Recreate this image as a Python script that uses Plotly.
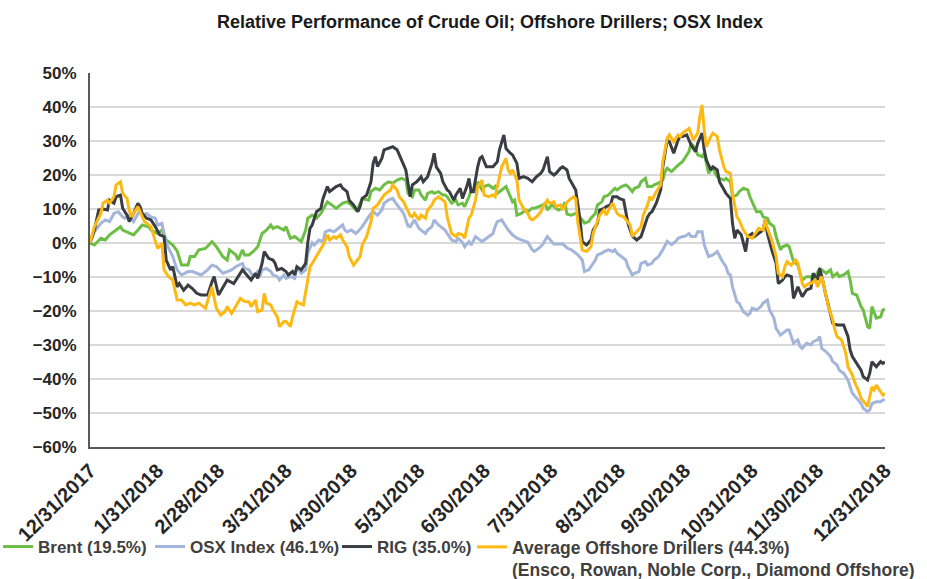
import pandas as pd
import plotly.graph_objects as go

START = "2017-12-31"

tick_labels = ["12/31/2017", "1/31/2018", "2/28/2018", "3/31/2018", "4/30/2018",
               "5/31/2018", "6/30/2018", "7/31/2018", "8/31/2018", "9/30/2018",
               "10/31/2018", "11/30/2018", "12/31/2018"]

# days since 12/31/2017 and relative performance in percent
brent_day = [0, 2, 5, 7, 9, 11, 14, 15, 17, 20, 22, 24, 27, 28, 31, 33, 35, 38, 40, 42, 45, 46, 48, 50, 53, 56, 58, 61, 63, 64, 67, 68, 70,
             71, 73, 75, 77, 79, 81, 83, 84, 86, 89, 90, 92, 94, 95, 97, 99, 100, 102, 104, 106, 107, 109, 111, 113, 116, 118, 120, 122, 123,
             125, 128, 129, 131, 133, 135, 137, 139, 141, 143, 145, 146, 148, 149, 151, 152, 154, 155, 157, 158, 160, 162, 163, 164, 166,
             168, 169, 171, 172, 174, 175, 177, 178, 180, 181, 183, 185, 186, 187, 189, 191, 192, 194, 195, 196, 198, 200, 201, 203, 204,
             206, 208, 209, 210, 212, 213, 215, 217, 218, 219, 221, 223, 224, 226, 227, 229, 230, 232, 233, 235, 236, 238, 240, 241, 242,
             244, 246, 247, 249, 250, 252, 253, 255, 256, 258, 259, 261, 263, 264, 265, 267, 269, 270, 272, 273, 275, 276, 278, 279, 281,
             282, 284, 286, 287, 288, 289, 291, 292, 294, 295, 297, 298, 300, 302, 303, 304, 306, 308, 309, 311, 312, 314, 315, 317, 318,
             320, 321, 323, 325, 326, 327, 329, 331, 332, 334, 335, 336, 338, 340, 341, 343, 344, 346, 348, 349, 350, 352, 354, 355, 357,
             358, 359, 361, 363, 364, 365]
brent_pct = [0, -0.6, 1.4, 0.9, 2.4, 3.3, 4.8, 3.8, 3.3, 2.4, 3.8, 5.3, 4.8, 3.8, 2.8, 3.8, 0.9, -0.6, -2.3, -6.5, -6.5, -4, -4, -2, -1.6, 0.4, -1.1, -4, -5, -2, -3.5, -5, -2,
             -3.5, -3.5, -2.5, -1.1, 2.8, 3.8, 5.3, 4.3, 4.8, 3.8, 4.8, 1.4, 1.9, 1.4, 0.4, 3.8, 7.3, 8.2, 7.3, 8.7, 9.7, 12.1, 11.2, 10.2, 11.7, 12.1, 11.2, 9.7, 10.2,
             13.1, 12.6, 15.1, 16.1, 15.6, 17.1, 18, 17.6, 18.5, 19, 18.5, 14.6, 13.6, 15.6, 15.6, 14.1, 12.6, 14.6, 15.1, 14.6, 15.1, 14.1, 14.1, 13.6, 11.7,
             12.6, 11.2, 11.7, 10.7, 13.6, 15.6, 15.1, 18, 15.6, 16.6, 17.1, 16.1, 16.6, 14.6, 15.6, 16.6, 15.1, 12.1, 12.6, 8.2, 8.7, 9.7, 9.2, 10.2, 10.2,
             10.7, 11.2, 11.7, 9.7, 11.2, 10.7, 9.7, 10.2, 12, 8.5, 8.2, 8.7, 8.2, 6.8, 5.8, 6.3, 7.3, 8.7, 11.2, 12.1, 13.6, 14.1, 15.6, 16.1, 15.6,
             16.6, 17.1, 16.6, 15.1, 16.1, 16.6, 18, 19, 16.6, 16.6, 17.1, 17.6, 18.5, 21, 22, 21, 22.4, 22.9, 23.9, 24.9, 26.9, 29.3, 27.8, 25.9, 25.4,
             26.4, 20.5, 22.4, 20.5, 19.5, 19, 18.5, 19, 18, 13.6, 14.1, 15.1, 16.1, 15.6, 13.6, 12.1, 9.2, 9.2, 7.7, 7.3, 5.8, 4.8, 1.9, -2, -1.1,
             -0.6, -1.1, -5.5, -6.5, -8.9, -10.9, -9.9, -9.9, -10.9, -8.4, -7.5, -7.9, -8.9, -7.9, -9.9, -8.9, -9.9, -9.4, -8.4, -10.9, -14.8, -15.3, -18.7, -19.7, -24.6,
             -25.1, -18.7, -22.1, -21.7, -19.7, -19.5]

osx_day = [0, 2, 5, 7, 9, 11, 13, 15, 16, 18, 20, 22, 23, 24, 26, 28, 30, 31, 33, 35, 38, 40, 42, 45, 47, 49, 51, 54, 56, 58, 61, 63, 65, 67, 70,
           71, 73, 75, 77, 78, 79, 81, 83, 84, 86, 87, 89, 90, 92, 94, 95, 97, 99, 100, 102, 103, 105, 107, 108, 110, 112, 113, 116, 117, 118,
           120, 122, 123, 125, 127, 129, 130, 132, 134, 135, 137, 139, 140, 141, 144, 146, 147, 149, 151, 152, 154, 155, 157, 158, 160, 162,
           163, 164, 166, 168, 169, 171, 172, 174, 175, 177, 178, 180, 181, 183, 185, 186, 187, 189, 191, 192, 194, 195, 196, 198, 200, 201,
           203, 204, 206, 208, 209, 210, 212, 213, 215, 217, 218, 219, 221, 223, 224, 226, 227, 229, 230, 232, 233, 235, 236, 238, 240, 241,
           242, 244, 246, 247, 249, 250, 252, 253, 255, 256, 258, 259, 261, 263, 264, 265, 267, 269, 270, 272, 273, 275, 276, 278, 279, 281,
           282, 284, 286, 287, 288, 290, 292, 293, 294, 295, 297, 298, 300, 302, 303, 304, 306, 308, 309, 311, 312, 314, 315, 317, 318, 320,
           321, 323, 325, 326, 327, 329, 331, 332, 334, 335, 336, 338, 340, 341, 343, 344, 346, 348, 349, 350, 352, 354, 355, 357, 358, 359,
           361, 363, 364, 365]
osx_pct = [0, 3.3, 5.8, 6.8, 6.3, 8.7, 9.2, 7.7, 7.3, 8.2, 6.3, 8.7, 9.7, 8.2, 8.7, 7.7, 7.3, 5.3, 5.8, -0.1, -4, -7.9, -9.4, -8.4, -8.4, -8.9, -9.4, -7.9, -6.5, -6.9, -8.9, -8.4, -7.9, -6.9, -6,
           -7.5, -7.9, -9.9, -8.4, -9.9, -7.9, -7.5, -8.4, -9.4, -9.9, -10.9, -9.4, -10.4, -9.9, -10.4, -7, -8.9, -7.9, -3, 0.1, -0.6, 0.9, 0.4, 3.3, 3.8, 3.3, 3.8, 5.3, 3.8, 3.3,
           3.8, 2.8, 3.3, 4.8, 6.8, 8.7, 9.2, 8.2, 9.7, 11.7, 12.6, 13.1, 12.1, 11.2, 8.7, 5, 4.8, 6.8, 4.3, 3.8, 2.8, 3.8, 4.8, 6.8, 5.3, 4.3,
           3.8, 2.8, 0.9, 0.4, 1.4, 0.2, -1.1, 0.4, -0.6, 1.9, 1.4, 0.4, 0.9, 1.9, 2.8, 4.8, 6.3, 6.8, 4.8, 3.8, 2.4, 1.9, 1.4, 0.9, 0.4, 0.2,
           -2, -2.5, -1.6, -0.3, 0.9, 1.9, 0.4, -0.3, -0.3, -0.3, -0.8, -1.5, -2, -3, -3.5, -5, -8.4, -7.9, -7, -5, -3.5, -3, -2.5, -2, -2.5, -2,
           -3, -4, -5, -7, -9.4, -8.9, -8.4, -6, -5.5, -6.5, -6, -5, -4, -2, -0.9, 0.5, -0.5, 0.5, 1.4, 1.9, 1.9, 2.8, 1.9, 1.9, 3.3, 3.3,
           -0.5, -4, -3.5, -3, -2.5, -5, -7, -9, -9.4, -12.9, -17.3, -17.7, -20.2, -21.2, -20.7, -19.2, -19.7, -18.7, -17.7, -16.8, -19.7, -22.1, -25.1, -27.1, -26.6, -25.6,
           -25.6, -29.5, -28.5, -30.5, -31, -29.5, -30, -29, -28.5, -27.5, -31, -32, -33.4, -34.9, -35.9, -37.4, -38.3, -40.3, -42.3, -44.2, -45.7, -47.2, -48.6, -49.6, -49.1, -47.2,
           -46.7, -46.7, -46.2, -46.1]

rig_day = [0, 2, 4, 6, 8, 9, 11, 12, 14, 15, 17, 18, 20, 22, 23, 24, 26, 28, 30, 32, 34, 35, 37, 38, 40, 41, 43, 45, 47, 49, 51, 54, 56, 57, 59,
           61, 63, 66, 68, 70, 72, 74, 76, 77, 79, 80, 82, 84, 85, 86, 88, 90, 91, 93, 94, 95, 97, 99, 100, 101, 102, 104, 106, 107, 109, 110,
           112, 113, 115, 116, 118, 119, 121, 123, 124, 125, 127, 129, 130, 131, 132, 134, 135, 137, 139, 141, 142, 144, 145, 146, 147, 148,
           150, 152, 153, 155, 156, 157, 158, 159, 161, 162, 164, 165, 167, 168, 170, 171, 173, 174, 175, 176, 178, 179, 180, 182, 184, 185,
           187, 188, 190, 191, 193, 194, 196, 197, 199, 201, 202, 203, 205, 207, 208, 210, 211, 213, 214, 216, 217, 219, 220, 222, 223, 224,
           225, 226, 228, 230, 231, 233, 234, 236, 237, 239, 240, 242, 243, 245, 247, 248, 249, 251, 253, 254, 256, 257, 258, 260, 262, 263,
           265, 266, 268, 270, 271, 272, 274, 275, 276, 278, 279, 281, 282, 283, 285, 286, 288, 289, 291, 292, 294, 295, 296, 297, 299, 301,
           302, 304, 305, 307, 309, 310, 311, 313, 315, 316, 318, 319, 320, 322, 323, 325, 326, 327, 329, 331, 332, 334, 335, 336, 338, 340,
           341, 343, 344, 346, 348, 349, 350, 352, 354, 355, 357, 358, 359, 361, 363, 364, 365]
rig_pct = [0, 3.8, 9.7, 10, 9.7, 12.6, 11.7, 13.6, 14.1, 10.2, 8.2, 6.3, 8.7, 11.7, 10.7, 8.7, 7.3, 6.8, 4.8, 2.4, 1.9, -5, -7.9, -6.9, -12.9, -11.9, -13.9, -12.4, -13.4, -14.8, -15.3, -15.3, -11.4, -9.9, -15.3,
           -12.9, -10.9, -11.9, -9.9, -7.9, -9.4, -10.9, -8.9, -10.4, -6, -2.5, -4.5, -5, -6, -7.9, -7.5, -8.4, -9.4, -8.4, -9.4, -7, -7.9, -6, 0.2, 4.3, 5.3, 9.2, 10.2, 13.1, 16.6, 15.1,
           16.1, 16.6, 17.1, 16.1, 15.1, 12.6, 11.2, 9.2, 10.7, 13.1, 14.1, 18, 23.4, 25.4, 22.5, 24.9, 27.4, 27.8, 28.3, 27.4, 25.9, 23.4, 21.5, 17.6, 13.6, 17.1,
           18, 19.5, 18, 19.5, 21.5, 23.4, 26.4, 22.4, 20.5, 18, 15.6, 15.1, 12.6, 14.1, 16.1, 13.1, 16.6, 19, 15.1, 15.1, 22.4, 24.9, 25.4, 22.4, 22.4, 22.4,
           23.9, 27.4, 31.8, 27.8, 26.4, 25.9, 23.4, 19, 19.5, 19, 18.5, 18, 19.5, 20.5, 21.5, 25.4, 21, 20, 20.5, 22, 22.4, 21.5, 19, 16.6, 15.6, 11.2,
           6.8, 0.4, -0.6, 0.9, 3.8, 5.8, 9.7, 10.2, 10.7, 11.2, 13.6, 13.6, 13.1, 12.6, 5.8, 3.8, 2, 0.9, 1.9, 3.8, 7.7, 8.7, 9.2, 11.7, 15.6, 22.4,
           30.3, 29.8, 26.4, 30.3, 31.3, 31.3, 31.8, 30.3, 28.8, 26.9, 29.3, 32.3, 27.4, 24.4, 21.5, 22.4, 21.5, 18, 15.6, 14.6, 13.1, 5.8, 1.4, 3.8, 2.4, -2.5,
           1.9, 2.8, 1.9, 2.8, 3.8, 6.8, 2.8, -2, -6, -11.9, -10.9, -9.9, -9.4, -9.9, -16.3, -12.9, -14.3, -15.8, -13.8, -13.3, -8.9, -10.9, -7.5, -9.9, -15.8, -20.7,
           -23.6, -24.1, -24.1, -24.1, -27.5, -31.5, -33.4, -35.4, -37.4, -39.3, -40.3, -38.3, -34.9, -36.4, -34.9, -35.4, -35.0]

avg_day = [0, 2, 5, 6, 8, 9, 11, 12, 14, 15, 17, 18, 19, 21, 22, 24, 25, 28, 30, 31, 33, 34, 36, 38, 40, 42, 44, 46, 48, 50, 53, 55, 56, 58, 60,
           62, 63, 65, 67, 69, 71, 73, 74, 76, 77, 79, 80, 81, 83, 84, 86, 87, 89, 90, 92, 93, 95, 96, 98, 100, 101, 102, 104, 106, 107, 109,
           110, 112, 113, 115, 116, 118, 119, 121, 123, 124, 125, 127, 129, 130, 132, 133, 135, 138, 139, 141, 142, 144, 146, 147, 148, 149,
           151, 152, 154, 155, 157, 158, 160, 162, 163, 164, 166, 168, 169, 171, 172, 174, 175, 177, 178, 180, 181, 183, 185, 186, 187, 189,
           191, 192, 193, 194, 196, 197, 199, 201, 202, 203, 205, 207, 208, 210, 211, 213, 214, 216, 217, 219, 220, 222, 223, 224, 225, 226,
           228, 230, 231, 233, 234, 236, 237, 239, 240, 242, 243, 245, 247, 248, 249, 251, 253, 254, 256, 257, 258, 260, 262, 263, 265, 266,
           268, 270, 271, 272, 274, 275, 277, 279, 280, 281, 282, 283, 285, 286, 288, 289, 291, 292, 294, 295, 297, 298, 300, 302, 304, 305,
           307, 309, 310, 311, 313, 315, 316, 318, 319, 320, 322, 324, 325, 327, 328, 330, 331, 333, 334, 336, 337, 339, 341, 342, 343, 345,
           347, 348, 350, 351, 353, 354, 356, 357, 359, 360, 361, 363, 364, 365]
avg_pct = [0, 4.8, 8.7, 11.7, 12.6, 11.7, 13.6, 17.1, 18, 14.6, 13.1, 9.7, 7.7, 9.7, 10.7, 7.7, 6.3, 4.8, 0.9, -1.6, -0.1, -7.9, -9.9, -10.9, -16.8, -16.8, -18.2, -17.7, -18.2, -17.7, -19.2, -14.8, -12.9, -19.2, -21.2,
           -20.2, -18.7, -20.7, -18.7, -16.3, -17.2, -17.3, -18.7, -16.8, -20.2, -19.7, -14.8, -17.7, -18.2, -19.7, -21.7, -24.6, -23.1, -23.1, -24.6, -21.7, -17.3, -17.7, -18.2, -11.4, -7, -6, -4, -2, -0.6, 2.4,
           0.9, 1.9, 1.4, 2.4, 0.9, -1.1, -4, -6.5, -5, -4, -0.6, 1.9, 6.3, 10.2, 11.2, 12.1, 14.1, 15.6, 17.1, 15.6, 13.6, 12.1, 9.5, 8, 7.7, 8.7,
           6.8, 8.2, 7.3, 9.7, 11.2, 12.6, 13.6, 12.6, 12.1, 7.7, 2.8, 1.9, 2.8, 2.4, 1.4, 7.3, 8.2, 12.6, 16.6, 18.5, 14.1, 13.6, 14.1, 13.6, 16.6, 22.4,
           24.9, 21.5, 20.5, 21.5, 18.5, 12.6, 10.2, 8.7, 7.3, 6.8, 7.7, 9.2, 10.7, 12.6, 11.7, 12.1, 10.7, 11.2, 9.7, 12, 12.6, 13.6, 13, 5.8, 1.9, -2,
           -2.5, -1.1, 2.8, 6.3, 8.2, 9.7, 8.2, 10.7, 11.7, 8.7, 8.2, 7.7, 6.3, 5.3, 1.9, 3.3, 4.8, 8.2, 11.2, 13.6, 12.6, 15.1, 17.1, 23.9, 30.8, 31.8,
           29.8, 31.8, 31.3, 32.3, 33.2, 33.7, 30.3, 32.3, 37.2, 40.6, 33.2, 28.3, 31.3, 32.3, 31.3, 27.4, 22.4, 21, 20.5, 14.6, 7.7, 6.8, 3.8, 1.9, 1.4, 2.4,
           4.3, 3.8, 6.8, 4.3, 0.9, -4, -8.9, -9.9, -7, -5.5, -6.5, -5, -6, -11.9, -12.9, -11.9, -11.9, -10.9, -12.9, -9.9, -12.9, -18.7, -22.6, -25.6, -27.5, -28.5,
           -32.4, -36.4, -38.8, -40.8, -43.7, -45.7, -47.2, -48.1, -42.3, -43.2, -41.8, -43.7, -44.7, -44.3]

series_names = ["Brent (19.5%)", "OSX Index (46.1%)", "RIG (35.0%)",
                "Average Offshore Drillers (44.3%)<br>(Ensco, Rowan, Noble Corp., Diamond Offshore)"]
series_colors = ["#6DBE45", "#A3B5DA", "#3A3D42", "#FDB913"]
legend_ids = ["legend", "legend2", "legend3", "legend4"]

start = pd.Timestamp(START)


def to_dates(days):
    return start + pd.to_timedelta(days, unit="D")


tick_dates = pd.to_datetime(tick_labels, format="%m/%d/%Y")

FONT = "Liberation Sans"
PLOT_L, PLOT_W, PLOT_B, PLOT_H = 90, 795, 447, 374
fig = go.Figure()
data = [(brent_day, brent_pct), (osx_day, osx_pct), (rig_day, rig_pct), (avg_day, avg_pct)]
for (d, v), name, col, lg in zip(data, series_names, series_colors, legend_ids):
    fig.add_trace(go.Scatter(
        x=to_dates(d), y=v, mode="lines", name=name,
        line=dict(color=col, width=3), legend=lg,
    ))

# legend entries placed one after another along the bottom (text start in px)
legend_text_px = [38, 190, 377, 512]
legend_font_size = [17, 17, 17, 17.5]
legend_top_px = [529, 529, 529, 529]
legend_layout = {}
for lg, tx, fs, ty in zip(legend_ids, legend_text_px, legend_font_size, legend_top_px):
    legend_layout[lg] = dict(
        orientation="h", x=(tx - 40 - PLOT_L) / PLOT_W, xanchor="left",
        y=(PLOT_B - ty) / PLOT_H, yanchor="top",
        font=dict(family=FONT, size=fs, color="#404040", weight="bold"),
        bgcolor="rgba(0,0,0,0)", valign="top",
    )

fig.update_layout(
    width=927, height=579,
    margin=dict(l=PLOT_L, r=927 - PLOT_L - PLOT_W, t=PLOT_B - PLOT_H, b=579 - PLOT_B, autoexpand=False),
    paper_bgcolor="white", plot_bgcolor="white",
    font=dict(family=FONT, size=16, color="#262626"),
    title=dict(text="<b>Relative Performance of Crude Oil; Offshore Drillers; OSX Index</b>",
               x=490 / 927, xanchor="center", y=1 - 22 / 579, yanchor="middle",
               font=dict(family=FONT, size=18, color="#1A1A1A")),
    showlegend=True,
    **legend_layout,
)
fig.update_xaxes(
    type="date", range=[tick_dates[0], tick_dates[-1]], automargin=False,
    tickmode="array", tickvals=tick_dates, ticktext=tick_labels, tickangle=-45,
    showgrid=False, zeroline=False, showline=True, linecolor="#595959", linewidth=2,
    ticks="", ticklabelstandoff=2,
    tickfont=dict(family=FONT, size=20, color="#262626", weight="bold"),
)
fig.update_yaxes(
    range=[-60, 50], dtick=10, tick0=0, ticksuffix="%", automargin=False,
    showgrid=True, gridcolor="#D9D9D9", gridwidth=1.5, zeroline=False,
    showline=True, linecolor="#595959", linewidth=2, ticks="",
    ticklabelstandoff=8,
    tickfont=dict(family=FONT, size=17, color="#262626", weight="bold"),
)

fig.write_html("out.html", config={"displayModeBar": False},
               post_script="document.body.style.margin='0px';")
